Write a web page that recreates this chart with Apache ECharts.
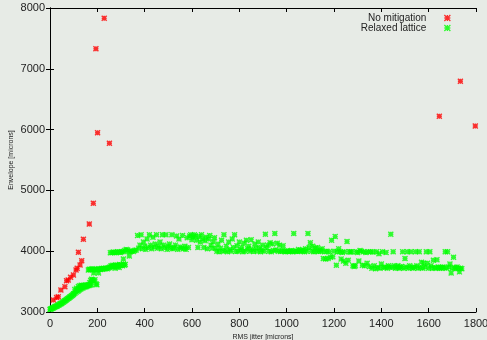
<!DOCTYPE html>
<html>
<head>
<meta charset="utf-8">
<script src="https://cdn.jsdelivr.net/npm/echarts@6/dist/echarts.min.js"></script>
<style>
  html, body { margin: 0; padding: 0; background: #e7ebe6; }
  #chart { width: 487px; height: 340px; }
</style>
</head>
<body>
<div id="chart"></div>
<script>
// data: [rms jitter, envelope]
var noMitigation = [
  [14, 3197], [28, 3240], [35, 3252], [46, 3362], [63, 3417], [70, 3515],
  [77, 3526], [87, 3570], [99, 3608], [110, 3690], [115, 3718], [120, 3981],
  [127, 3773], [134, 3844], [141, 4195], [166, 4447], [183, 4787],
  [194, 7331], [201, 5949], [229, 7830], [251, 5775],
  [1645, 6219], [1734, 6794], [1797, 6059]
];

var relaxedX = [
  // lower curve
  0, 3, 6, 9, 12, 15, 18, 21, 24, 27, 30, 33, 36, 39, 42, 45, 48, 51, 54, 57,
  60, 63, 66, 69, 72, 75, 78, 81, 84, 87, 90, 93, 96, 99,
  100, 105, 110, 115, 120, 125, 130, 135, 140, 145, 150, 155, 160, 165, 170, 175,
  105, 112, 120, 126, 132, 138, 144, 150, 156, 162, 168, 172, 176, 180, 185, 190, 195, 198,
  // 3700 shelf
  162, 166, 170, 174, 178, 182, 186, 190, 194, 198, 202, 206, 210, 214, 218, 222,
  226, 230, 234, 238, 242, 246, 250, 185, 205,
  254, 258, 262, 266, 270, 274, 278, 282, 286, 290, 294, 298, 302, 306, 310, 314, 318,
  275, 292, 310, 335,
  255, 262, 268, 274, 280, 286, 292, 298, 304, 310, 316, 322, 328, 334, 340, 346, 352, 358, 364,
  // plateau
  370, 375, 380, 385, 390, 395, 400, 405, 410, 415, 420, 425, 430, 435, 440, 445,
  450, 455, 460, 465, 470, 475, 480, 485, 490, 495, 500, 505, 510, 515, 520, 525,
  530, 535, 540, 545, 550, 555, 560, 565, 570, 575, 580, 585, 590, 595, 600, 605,
  610, 615, 620, 625, 630, 635, 640, 645, 650, 655, 660, 665, 670, 675, 680, 685,
  690, 695, 700,
  705, 710, 715, 720, 725, 730, 735, 740, 745, 750, 755, 760, 765, 770, 775, 780,
  785, 790, 795, 800, 805, 810, 815, 820, 825, 830, 835, 840, 845, 850, 855, 860,
  865, 870, 875, 880, 885, 890, 895, 900, 905, 910, 915, 920, 925, 930, 935, 940,
  945, 950, 955, 960, 965, 970, 975, 980, 985, 990, 995, 1000, 1005, 1010, 1015,
  1020, 1025, 1030, 1035, 1040, 1045, 1050, 1055, 1060, 1065, 1070, 1075, 1080,
  1085, 1090, 1095, 1100, 1105, 1110, 1115, 1120, 1125, 1130, 1135, 1140, 1145, 1150,
  1155, 1160, 1165, 1170, 1175, 1180, 1185, 1190, 1195, 1200, 1205, 1210, 1215,
  1220, 1225, 1230, 1235, 1240, 1245, 1250, 1255, 1260, 1265, 1270, 1275, 1280,
  1285, 1290, 1295, 1300, 1305, 1310, 1315, 1320, 1325, 1330, 1335, 1340, 1345, 1350,
  // lower shelf at the end
  1355, 1360, 1365, 1370, 1375, 1380, 1385, 1390, 1395, 1400, 1405, 1410, 1415,
  1420, 1425, 1430, 1435, 1440, 1445, 1450, 1455, 1460, 1465, 1470, 1475, 1480,
  1485, 1490, 1495, 1500, 1505, 1510, 1515, 1520, 1525, 1530, 1535, 1540, 1545,
  1550, 1555, 1560, 1565, 1570, 1575, 1580, 1585, 1590, 1595, 1600, 1605, 1610,
  1615, 1620, 1625, 1630, 1635, 1640, 1645, 1650, 1655, 1660, 1665, 1670, 1675,
  1680, 1685, 1690, 1695, 1700, 1705, 1710, 1715, 1720, 1725, 1730, 1735, 1740
];
var relaxedY = [
  3040, 3050, 3055, 3060, 3065, 3070, 3080, 3085, 3090, 3095, 3100, 3110, 3115, 3120, 3130, 3135, 3140, 3150, 3160, 3165,
  3175, 3185, 3190, 3200, 3210, 3220, 3225, 3235, 3245, 3250, 3265, 3270, 3280, 3290,
  3300, 3310, 3325, 3340, 3350, 3365, 3380, 3390, 3400, 3410, 3415, 3420, 3430, 3435, 3445, 3450,
  3370, 3390, 3420, 3430, 3440, 3430, 3440, 3440, 3445, 3450, 3480, 3520, 3540, 3530, 3510, 3530, 3460, 3450,
  3690, 3705, 3700, 3695, 3710, 3700, 3695, 3705, 3700, 3690, 3700, 3710, 3705, 3700, 3715, 3705,
  3720, 3710, 3715, 3720, 3710, 3725, 3730, 3640, 3640,
  3740, 3760, 3750, 3770, 3745, 3760, 3775, 3750, 3765, 3760, 3780, 3770, 3775, 3760, 3790, 3770, 3780,
  3720, 3730, 3870, 3920,
  3975, 3980, 3985, 3975, 3980, 3990, 3985, 3980, 3990, 3995, 4010, 4030, 4020, 4000, 3990, 4005, 3995, 4010, 4020,
  4260, 4050, 4100, 4270, 4040, 4150, 4080, 4030, 4200, 4060, 4270, 4100, 4040, 4230, 4070, 4120,
  4270, 4050, 4080, 4150, 4040, 4270, 4100, 4060, 4270, 4030, 4080, 4120, 4050, 4270, 4040, 4060,
  4100, 4250, 4030, 4200, 4070, 4050, 4260, 4040, 4080, 4030, 4220, 4060, 4250, 4270, 4190, 4230,
  4270, 4250, 4180, 4060, 4240, 4150, 4270, 4200, 4060, 4170, 4230, 4040, 4200, 4260, 4100, 4050,
  4150, 4220, 4050,
  4000, 4120, 3990, 4050, 4180, 4000, 4270, 4010, 4080, 3990, 4150, 4030, 4000, 4200, 4060, 4270,
  3995, 4090, 4000, 4150, 4020, 4060, 3990, 4130, 4000, 4180, 4040, 4080, 4000, 4190, 4030, 3995,
  4120, 4050, 4000, 4150, 4060, 3990, 4020, 4100, 4000, 4280, 4060, 4100, 4000, 4140, 3990, 4120,
  4010, 4290, 4020, 4130, 4000, 4100, 3995, 4010, 4090, 4000, 3990, 4005, 4000, 3995, 4000,
  4010, 3990, 4290, 4000, 4005, 3995, 4030, 4000, 4010, 4000, 4020, 3990, 4040,
  4000, 4290, 4060, 4140, 4000, 4080, 3990, 4050, 4000, 4060, 3995, 4020, 4000, 4040,
  3880, 3990, 3870, 4000, 3880, 3990, 3900, 4180, 3910, 4000, 4240, 3770, 3990,
  4040, 3990, 3870, 3980, 3840, 3990, 3800, 4160, 3850, 3990, 3985, 3990, 3760,
  3750, 3760, 3990, 3980, 3840, 4010, 4000, 3770, 3990, 3760, 3980, 3800, 3990, 3750,
  3990, 3720, 3985, 3760, 3710, 3990, 3730, 3960, 3720, 3790, 3990, 3730, 3740,
  3980, 3720, 3760, 3740, 4280, 3730, 3990, 3760, 3720, 3740, 3760, 3720, 3730,
  3750, 3990, 3720, 3880, 3740, 3990, 3720, 3760, 3990, 3730, 3720, 3740, 3990,
  3760, 3720, 3990, 3730, 3820, 3720, 3800, 3740, 3990, 3800, 3720, 3990, 3760,
  3720, 3850, 3730, 3720, 3860, 3740, 3720, 3730, 3720, 3740, 3730, 3990, 3720,
  3990, 3740, 3790, 3640, 3720, 3900, 3730, 3710, 3740, 3720, 3660, 3720, 3710
];
var xTicks = [0, 200, 400, 600, 800, 1000, 1200, 1400, 1600, 1800];
var yTicks = [3000, 4000, 5000, 6000, 7000, 8000];

var relaxed = relaxedX.map(function (x, i) { return [x, relaxedY[i]]; });

// gnuplot style asterisk (x on top of +)
var star = 'path://M0,0L10,10M10,0L0,10M5,0L5,10M0,5L10,5';
var font = 'Liberation Sans, Arial, sans-serif';
function plain(v) { return String(v); }

var chart = echarts.init(document.getElementById('chart'));
var frameTick = { show: true, inside: true, length: 4, lineStyle: { color: '#000', width: 1 } };
var option = {
  backgroundColor: '#e7ebe6',
  animation: false,
  grid: { left: 50, right: 11, top: 8, bottom: 28, outerBoundsMode: 'none', containLabel: false },
  legend: {
    orient: 'vertical',
    right: 31,
    top: 8,
    align: 'right',
    itemWidth: 6,
    itemHeight: 6,
    itemGap: 0,
    textStyle: { fontFamily: font, fontSize: 10, lineHeight: 10, color: '#222', padding: [0, 13, 0, 0] },
    data: [
      { name: 'No mitigation', icon: star, itemStyle: { borderColor: '#ff0000', borderWidth: 1.3 } },
      { name: 'Relaxed lattice', icon: star, itemStyle: { borderColor: '#00ff00', borderWidth: 1.3 } }
    ]
  },
  xAxis: [{
    type: 'value', min: xTicks[0], max: xTicks[xTicks.length - 1], interval: 200,
    name: 'RMS jitter [microns]', nameLocation: 'middle', nameGap: 17,
    nameTextStyle: { fontFamily: font, fontSize: 7, color: '#222' },
    axisLine: { lineStyle: { color: '#000', width: 1 } },
    axisTick: frameTick,
    axisLabel: { fontFamily: font, fontSize: 11, color: '#222', margin: 6, formatter: plain },
    splitLine: { show: false }
  }, {
    type: 'value', position: 'top', min: 0, max: 1800, interval: 200,
    axisLine: { show: true, lineStyle: { color: '#000', width: 1 } },
    axisTick: frameTick, axisLabel: { show: false }, splitLine: { show: false }
  }],
  yAxis: [{
    type: 'value', min: yTicks[0], max: yTicks[yTicks.length - 1], interval: 1000,
    name: 'Envelope [microns]', nameLocation: 'middle', nameGap: 35, nameMoveOverlap: false,
    nameTextStyle: { fontFamily: font, fontSize: 7, color: '#222' },
    axisLine: { show: true, lineStyle: { color: '#000', width: 1 } },
    axisTick: frameTick,
    axisLabel: { fontFamily: font, fontSize: 11, color: '#222', margin: 5, formatter: plain },
    splitLine: { show: false }
  }, {
    type: 'value', position: 'right', min: 3000, max: 8000, interval: 1000,
    axisLine: { show: true, lineStyle: { color: '#000', width: 1 } },
    axisTick: frameTick, axisLabel: { show: false }, splitLine: { show: false }
  }],
  series: [{
    name: 'No mitigation', type: 'scatter', data: noMitigation,
    symbol: star, symbolSize: 5,
    itemStyle: { color: '#ff0000', borderColor: '#ff0000', borderWidth: 1.4 }
  }, {
    name: 'Relaxed lattice', type: 'scatter', data: relaxed,
    symbol: star, symbolSize: 5,
    itemStyle: { color: '#00ff00', borderColor: '#00ff00', borderWidth: 1.4 }
  }]
};
chart.setOption(option);
</script>
</body>
</html>
